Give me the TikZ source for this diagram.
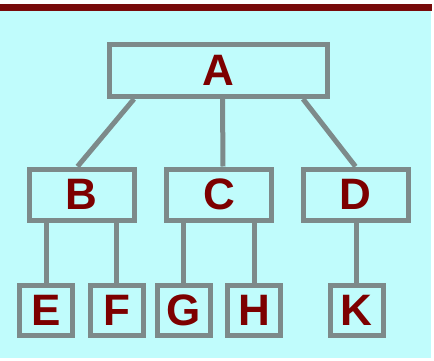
\documentclass[tikz,border=0pt]{standalone}
\usepackage{fontspec}
\setmainfont{Liberation Sans}
\usetikzlibrary{positioning}

\definecolor{bgcyan}{RGB}{192,252,252}
\definecolor{barred}{RGB}{120,10,10}
\definecolor{boxgray}{RGB}{125,138,138}
\definecolor{letterred}{RGB}{125,0,0}

\begin{document}
\begin{tikzpicture}[x=1pt,y=-1pt,
box/.style={draw=boxgray,line width=5pt,inner sep=0pt,
  font=\fontsize{44}{44}\bfseries\selectfont,text=letterred},
topbox/.style={box,minimum width=218pt,minimum height=52pt},
midbox/.style={box,minimum width=105pt,minimum height=51pt},
leafbox/.style={box,minimum width=53pt,minimum height=50pt},
link/.style={draw=boxgray,line width=5pt} ]

\useasboundingbox (0,0) rectangle (434,361);
\fill[white] (0,0) rectangle (434,361);
\fill[bgcyan] (0,11) rectangle (431,358);
\fill[barred] (0,4) rectangle (432,11);

\node[topbox](A) at (218.5,70.5) {A};

\node[midbox](B) at (81.5,194.5) {B};
\node[midbox](C) at (219,194.5) {C};
\node[midbox](D) at (355.5,194.5) {D};

\node[leafbox](E) at (46,310.5) {E};
\node[leafbox](F) at (116.5,310.5) {F};
\node[leafbox](G) at (183.5,310.5) {G};
\node[leafbox](H) at (254,310.5) {H};
\node[leafbox](K) at (356.5,310.5) {K};

\draw[link] ([xshift=27pt]A.south west) -- ([xshift=-4pt]B.north);
\draw[link] ([xshift=4pt]A.south) -- ([xshift=4pt]C.north);
\draw[link] ([xshift=-27pt]A.south east) -- (D.north);

\draw[link] (B.south -| E.north) -- (E.north);
\draw[link] (B.south -| F.north) -- (F.north);
\draw[link] (C.south -| G.north) -- (G.north);
\draw[link] (C.south -| H.north) -- (H.north);
\draw[link] (D.south -| K.north) -- (K.north);
\end{tikzpicture}
\end{document}
